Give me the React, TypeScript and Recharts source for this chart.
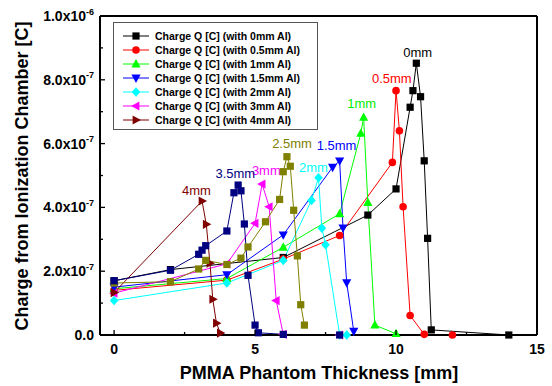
import { LineChart, Line, XAxis, YAxis, Legend, ReferenceDot, Label } from 'recharts';

const FONT = '"Liberation Sans", Arial, Helvetica, sans-serif';

// PMMA thickness [mm] vs. charge [x1e-7 C], one pair per Al filter
const x0mm = [0, 2, 6, 9, 10, 10.5, 10.6, 10.72, 10.87, 11, 11.12, 11.25, 14];
const q0mm = [1.7, 2.05, 2.43, 3.76, 4.58, 7.14, 7.66, 8.52, 7.47, 5.46, 3.03, 0.16, 0];

const x05mm = [0, 4, 6, 8, 9.87, 10, 10.12, 10.25, 10.5, 11, 12];
const q05mm = [1.4, 1.72, 2.38, 3.12, 5.41, 7.66, 6.4, 4.02, 0.61, 0.02, 0];

const x1mm = [0, 4, 6, 8, 8.75, 8.85, 9, 9.25, 10];
const q1mm = [1.45, 1.77, 2.75, 3.8, 6.32, 6.82, 4.15, 0.31, 0.04];

const x15mm = [0, 4, 6, 7.75, 8, 8.12, 8.25, 8.5];
const q15mm = [1.5, 1.89, 3.14, 5.26, 5.46, 3.36, 1.64, 0.12];

const x2mm = [0, 4, 6, 7, 7.25, 7.37, 7.5, 8, 8.25];
const q2mm = [1.08, 1.63, 2.34, 4.22, 4.93, 3.35, 2.83, 0, 0];

const x25mm = [0, 2, 3, 3.25, 4, 4.5, 4.75, 5.37, 5.87, 6.0, 6.13, 6.25, 6.37, 6.5, 6.62, 6.75];
const q25mm = [1.63, 1.67, 2.07, 2.34, 2.21, 2.41, 2.76, 3.55, 4.25, 5.12, 5.59, 5.29, 3.91, 2.48, 0.95, 0.31];

const x3mm = [0, 4, 5, 5.25, 5.5, 5.75, 6, 8];
const q3mm = [1.31, 2.23, 3.5, 4.73, 4.02, 1.08, 0.02, 0];

const x35mm = [0, 2, 3, 3.12, 3.25, 4, 4.25, 4.4, 4.5, 4.62, 4.75, 5, 5.12, 6, 8];
const q35mm = [1.7, 2.03, 2.53, 2.66, 2.8, 3.26, 4.46, 4.7, 4.52, 3.48, 1.87, 0.31, 0.07, 0.02, 0];

const x4mm = [0, 3.12, 3.27, 3.4, 3.5, 3.63, 3.77];
const q4mm = [1.33, 4.2, 3.47, 2.25, 1.12, 0.37, 0.06];

const xTicks = [0, 2.5, 5, 7.5, 10, 12.5, 15];
const yTicks = [0, 1, 2, 3, 4, 5, 6, 7, 8, 9, 10];

// peak labels: text, position (data units), colour
const peakLabels = [
  { text: '0mm', x: 10.77, y: 8.72, color: '#000000' },
  { text: '0.5mm', x: 9.85, y: 7.9, color: '#FF0000' },
  { text: '1mm', x: 8.78, y: 7.12, color: '#00EE00' },
  { text: '1.5mm', x: 7.89, y: 5.8, color: '#0000FF' },
  { text: '2mm', x: 7.07, y: 5.12, color: '#00FFFF' },
  { text: '2.5mm', x: 6.31, y: 5.86, color: '#808000' },
  { text: '3mm', x: 5.4, y: 5.02, color: '#FF00FF' },
  { text: '3.5mm', x: 4.3, y: 4.92, color: '#000080' },
  { text: '4mm', x: 2.92, y: 4.39, color: '#800000' },
];

type Shape = 'square' | 'circle' | 'up' | 'down' | 'diamond' | 'left' | 'right';

const toRows = (xs: number[], qs: number[]) => xs.map((x, i) => ({ x, q: qs[i] }));

const series: { name: string; data: { x: number; q: number }[]; color: string; shape: Shape; legend: boolean }[] = [
  { name: 'Charge Q [C] (with 0mm Al)', data: toRows(x0mm, q0mm), color: '#000000', shape: 'square', legend: true },
  { name: 'Charge Q [C] (with 0.5mm Al)', data: toRows(x05mm, q05mm), color: '#FF0000', shape: 'circle', legend: true },
  { name: 'Charge Q [C] (with 1mm Al)', data: toRows(x1mm, q1mm), color: '#00FF00', shape: 'up', legend: true },
  { name: 'Charge Q [C] (with 1.5mm Al)', data: toRows(x15mm, q15mm), color: '#0000FF', shape: 'down', legend: true },
  { name: 'Charge Q [C] (with 2mm Al)', data: toRows(x2mm, q2mm), color: '#00FFFF', shape: 'diamond', legend: true },
  { name: 'Charge Q [C] (with 3mm Al)', data: toRows(x3mm, q3mm), color: '#FF00FF', shape: 'left', legend: true },
  { name: 'Charge Q [C] (with 4mm Al)', data: toRows(x4mm, q4mm), color: '#800000', shape: 'right', legend: true },
  { name: 'Charge Q [C] (with 2.5mm Al)', data: toRows(x25mm, q25mm), color: '#808000', shape: 'square', legend: false },
  { name: 'Charge Q [C] (with 3.5mm Al)', data: toRows(x35mm, q35mm), color: '#000080', shape: 'square', legend: false },
];

function Marker({ cx, cy, shape, color }: { cx?: number; cy?: number; shape: Shape; color: string }) {
  if (cx == null || cy == null) return null;
  const s = 3.6;
  switch (shape) {
    case 'square':
      return <rect x={cx - s} y={cy - s} width={2 * s} height={2 * s} fill={color} />;
    case 'circle':
      return <circle cx={cx} cy={cy} r={3.8} fill={color} />;
    case 'up':
      return <polygon points={`${cx},${cy - 5} ${cx + 4.6},${cy + 3.4} ${cx - 4.6},${cy + 3.4}`} fill={color} />;
    case 'down':
      return <polygon points={`${cx},${cy + 5} ${cx + 4.6},${cy - 3.4} ${cx - 4.6},${cy - 3.4}`} fill={color} />;
    case 'diamond':
      return <polygon points={`${cx},${cy - 4.8} ${cx + 4.3},${cy} ${cx},${cy + 4.8} ${cx - 4.3},${cy}`} fill={color} />;
    case 'left':
      return <polygon points={`${cx - 5},${cy} ${cx + 3.4},${cy - 4.6} ${cx + 3.4},${cy + 4.6}`} fill={color} />;
    case 'right':
      return <polygon points={`${cx + 5},${cy} ${cx - 3.4},${cy - 4.6} ${cx - 3.4},${cy + 4.6}`} fill={color} />;
  }
  return null;
}

function YTickLeft({ x, y, payload }: any) {
  const v = payload.value as number;
  const major = v % 2 === 0;
  let label = null;
  if (major) {
    if (v === 0) {
      label = <text x={x - 6} y={y + 5} textAnchor="end" fontSize={14} fontWeight="bold" fontFamily={FONT} fill="#000">0.0</text>;
    } else {
      const mant = v === 10 ? '1.0' : v.toFixed(1);
      const exp = v === 10 ? '-6' : '-7';
      label = (
        <text x={x - 6} y={y + 5} textAnchor="end" fontSize={14} fontWeight="bold" fontFamily={FONT} fill="#000">
          {mant}x10<tspan dy={-6.5} fontSize={9}>{exp}</tspan>
        </text>
      );
    }
  }
  return (
    <g>
      <line x1={x} y1={y} x2={x + (major ? 5 : 3)} y2={y} stroke="#000" strokeWidth={1.3} />
      {label}
    </g>
  );
}

function YTickRight({ x, y, payload }: any) {
  const major = (payload.value as number) % 2 === 0;
  return <line x1={x} y1={y} x2={x - (major ? 5 : 3)} y2={y} stroke="#000" strokeWidth={1.3} />;
}

function XTickBottom({ x, y, payload }: any) {
  const v = payload.value as number;
  const major = v % 5 === 0;
  return (
    <g>
      <line x1={x} y1={y} x2={x} y2={y - (major ? 5 : 3)} stroke="#000" strokeWidth={1.3} />
      {major && (
        <text x={x} y={y + 19} textAnchor="middle" fontSize={14} fontWeight="bold" fontFamily={FONT} fill="#000">
          {v}
        </text>
      )}
    </g>
  );
}

function XTickTop({ x, y, payload }: any) {
  const major = (payload.value as number) % 5 === 0;
  return <line x1={x} y1={y} x2={x} y2={y + (major ? 5 : 3)} stroke="#000" strokeWidth={1.3} />;
}

// legend rows come straight from the series list (keeps plot order, skips 2.5mm / 3.5mm)
function LegendBox() {
  const rows = series.filter((s) => s.legend);
  return (
    <svg width={205} height={108} style={{ display: 'block' }}>
      <rect x={0.5} y={0.5} width={204} height={107} fill="#fff" stroke="#555" strokeWidth={1} />
      {rows.map((s, i) => {
        const cy = 14 + i * 14;
        return (
          <g key={s.name}>
            <line x1={10} y1={cy} x2={36} y2={cy} stroke={s.color} strokeWidth={1} />
            <Marker cx={23} cy={cy} shape={s.shape} color={s.color} />
            <text x={42} y={cy + 4} fontSize={10.5} fontWeight="bold" fontFamily={FONT} fill="#000">
              {s.name}
            </text>
          </g>
        );
      })}
    </svg>
  );
}

export default function App() {
  return (
    <div style={{ position: 'absolute', left: 0, top: 0, background: '#fff' }}>
      <LineChart width={552} height={386} margin={{ top: 15, right: 14, left: 40, bottom: 21 }}>
        <XAxis
          dataKey="x"
          type="number"
          domain={[-0.5, 15]}
          ticks={xTicks}
          interval={0}
          height={30}
          tickSize={0}
          tickMargin={0}
          tickLine={false}
          tick={<XTickBottom />}
          axisLine={{ stroke: '#000', strokeWidth: 2 }}
        >
          <Label
            content={() => (
              <text x={319} y={379} textAnchor="middle" fontSize={18} fontWeight="bold" fontFamily={FONT} fill="#000">
                PMMA Phantom Thickness [mm]
              </text>
            )}
          />
        </XAxis>
        <XAxis
          xAxisId="top"
          dataKey="x"
          type="number"
          orientation="top"
          domain={[-0.5, 15]}
          ticks={xTicks}
          interval={0}
          height={1}
          tickSize={0}
          tickMargin={0}
          tickLine={false}
          tick={<XTickTop />}
          axisLine={{ stroke: '#000', strokeWidth: 2 }}
        />
        <YAxis
          type="number"
          domain={[0, 10]}
          ticks={yTicks}
          interval={0}
          width={60}
          tickSize={0}
          tickMargin={0}
          tickLine={false}
          tick={<YTickLeft />}
          axisLine={{ stroke: '#000', strokeWidth: 2 }}
        >
          <Label
            content={() => (
              <text
                x={28}
                y={176}
                textAnchor="middle"
                transform="rotate(-90 28 176)"
                fontSize={18}
                fontWeight="bold"
                fontFamily={FONT}
                fill="#000"
              >
                Charge from Ionization Chamber [C]
              </text>
            )}
          />
        </YAxis>
        <YAxis
          yAxisId="right"
          type="number"
          orientation="right"
          domain={[0, 10]}
          ticks={yTicks}
          interval={0}
          width={1}
          tickSize={0}
          tickMargin={0}
          tickLine={false}
          tick={<YTickRight />}
          axisLine={{ stroke: '#000', strokeWidth: 2 }}
        />
        <Legend
          layout="vertical"
          align="center"
          verticalAlign="middle"
          content={<LegendBox />}
          wrapperStyle={{ left: 113, top: 22, width: 205, height: 108 }}
        />
        {series.map((s) => (
          <Line
            key={s.name}
            name={s.name}
            data={s.data}
            dataKey="q"
            type="linear"
            stroke={s.color}
            strokeWidth={1}
            isAnimationActive={false}
            legendType={s.legend ? 'line' : 'none'}
            dot={(p: any) => <Marker key={`${s.name}-${p.index}`} cx={p.cx} cy={p.cy} shape={s.shape} color={s.color} />}
            activeDot={false}
          />
        ))}
        {peakLabels.map((l) => (
          <ReferenceDot
            key={l.text}
            x={l.x}
            y={l.y}
            r={0}
            shape={(p: any) => (
              <text x={p.cx} y={p.cy} textAnchor="middle" fontSize={13} fontFamily={FONT} fill={l.color}>
                {l.text}
              </text>
            )}
          />
        ))}
      </LineChart>
    </div>
  );
}
